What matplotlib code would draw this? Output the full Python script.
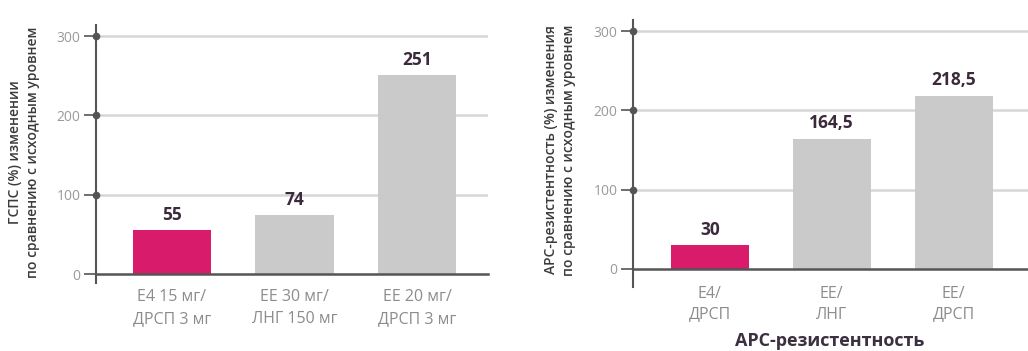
import matplotlib.pyplot as plt
import matplotlib.transforms as mtransforms

plt.rcParams['font.family'] = ['Open Sans', 'DejaVu Sans']

# data
left_labels = ['Е4 15 мг/\nДРСП 3 мг', 'ЕЕ 30 мг/\nЛНГ 150 мг', 'ЕЕ 20 мг/\nДРСП 3 мг']
left_values = [55, 74, 251]
left_value_text = ['55', '74', '251']

right_labels = ['Е4/\nДРСП', 'ЕЕ/\nЛНГ', 'ЕЕ/\nДРСП']
right_values = [30, 164.5, 218.5]
right_value_text = ['30', '164,5', '218,5']

y_ticks = [0, 100, 200, 300]

MAGENTA = '#d81b6b'
GRAY_BAR = '#cacaca'
GRID = '#d6d6d6'
AXIS = '#555555'
TICK_TXT = '#9a9a9a'
VAL_TXT = '#3b2a3b'

fig = plt.figure(figsize=(10.28, 3.51), dpi=100)

ax1 = fig.add_axes([96 / 1028, (351 - 283) / 351, (488 - 96) / 1028, 258 / 351])
ax2 = fig.add_axes([633 / 1028, (351 - 287) / 351, (1028 - 633) / 1028, 267 / 351])


def draw(ax, labels, values, texts, ylim, xlim, xoff, lsp):
    x = list(range(len(values)))
    colors = [MAGENTA] + [GRAY_BAR] * (len(values) - 1)
    ax.bar(x, values, width=0.64, color=colors, zorder=2)
    for xi, v, t in zip(x, values, texts):
        ax.text(xi, v + 8, t, ha='center', va='bottom', fontsize=12.5,
                fontweight='bold', color=VAL_TXT)
    # category labels under the bars
    for xi, lab in zip(x, labels):
        ax.annotate(lab, xy=(xi, 0), xytext=(0, -xoff), textcoords='offset points',
                    ha='center', va='top', fontsize=11.5, color='#8c8c8c',
                    linespacing=lsp, annotation_clip=False)
    ax.set_ylim(*ylim)
    ax.set_xlim(*xlim)
    ax.set_xticks([])
    ax.tick_params(axis='y', length=9, width=1.2, color=AXIS, pad=2,
                   direction='out', labelsize=10, labelcolor=TICK_TXT)
    ax.set_yticks(y_ticks)
    ax.set_yticklabels([str(t) for t in y_ticks])
    for t in y_ticks[1:]:
        ax.axhline(t, color=GRID, lw=1.8, zorder=0)
    for s in ['top', 'right']:
        ax.spines[s].set_visible(False)
    ax.spines['bottom'].set_position(('data', 0))
    ax.spines['bottom'].set_color(AXIS)
    ax.spines['bottom'].set_linewidth(1.8)
    ax.spines['bottom'].set_zorder(3)
    ax.spines['left'].set_color(AXIS)
    ax.spines['left'].set_linewidth(1.5)
    trans = mtransforms.blended_transform_factory(ax.transAxes, ax.transData)
    ax.plot([0] * (len(y_ticks) - 1), y_ticks[1:], 'o', ms=4.5, color=AXIS,
            transform=trans, clip_on=False, zorder=4)
    ax.set_facecolor('none')


draw(ax1, left_labels, left_values, left_value_text, (-11.3, 314), (-0.62, 2.58), 10.5, 1.55)
draw(ax2, right_labels, right_values, right_value_text, (-22.7, 314), (-0.63, 2.61), 12.5, 1.35)

fig.text(830 / 1028, 1 - 341 / 351, 'АРС-резистентность', ha='center', va='center',
         fontsize=13, fontweight='bold', color='#3b2f40')

fig.text(24 / 1028, 1 - 152 / 351,
         'ГСПС (%) изменении\nпо сравнению с исходным уровнем',
         rotation=90, ha='center', va='center', fontsize=10,
         fontweight='semibold', color='#3a3a3a', linespacing=1.3)
fig.text(560 / 1028, 1 - 150 / 351,
         'АРС-резистентность (%) изменения\nпо сравнению с исходным уровнем',
         rotation=90, ha='center', va='center', fontsize=10,
         fontweight='semibold', color='#3a3a3a', linespacing=1.3)

fig.savefig('out.png', dpi=100, facecolor='white')
